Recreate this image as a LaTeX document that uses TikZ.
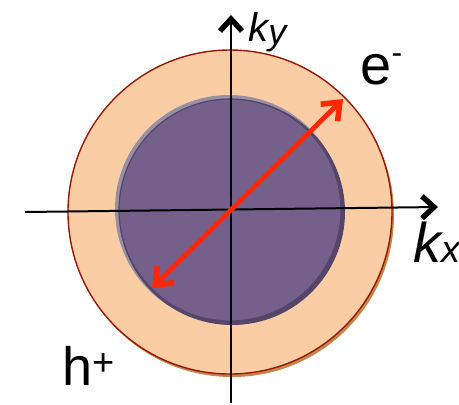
\documentclass[tikz,border=0pt]{standalone}
\usepackage{fontspec}
\setmainfont{Liberation Sans}
\usepackage{xcolor}
\usepackage{tikz}
\usetikzlibrary{arrows.meta}
\definecolor{fermisea}{RGB}{117,96,140}
\definecolor{fermiedge}{RGB}{85,70,105}
\definecolor{shell}{RGB}{251,205,165}
\definecolor{shelledge}{RGB}{150,25,5}
\definecolor{shellshadow}{RGB}{195,135,75}
\definecolor{pairarrow}{RGB}{255,40,5}

\begin{document}
\begin{tikzpicture}[
    x=0.5pt, y=-0.5pt,
    every node/.style={inner sep=0pt, anchor=base west},
    axis/.style={line width=1pt, -{Straight Barb[length=6pt, width=11pt, line width=2.7pt]}},
    pair/.style={draw=pairarrow, line width=2.4pt, line cap=round,
        {Straight Barb[length=7.5pt, width=12pt, line width=2.8pt]}-{Straight Barb[length=7.5pt, width=12pt, line width=2.8pt]}}
]
\useasboundingbox (0,0) rectangle (459,404);

% Schalen
\fill[shellshadow] (232,215) circle[radius=162];
\draw[shelledge, fill=shell, line width=0.7pt] (230,212) circle[radius=162];
\fill[fermiedge!60!white] (229,209) circle[radius=114];
\fill[fermiedge] (232,212) circle[radius=113];
\draw[fermiedge, fill=fermisea, line width=0.6pt] (230,210) circle[radius=111];

% Achsen
\coordinate (kxa) at (25,212);
\coordinate (kxb) at (438,207);
\coordinate (kya) at (231,403);
\coordinate (kyb) at (231,15);
\draw[axis] (kxa) -- (kxb);
\draw[axis] (kya) -- (kyb);

% Pfeil
\coordinate (hole) at (152,288);
\coordinate (elec) at (343,99);
\draw[pair] (hole) -- (elec);

% Beschriftungen
\node (ky) at (248,41) {\fontsize{20}{22}\selectfont\itshape k\raisebox{-1.5pt}{\fontsize{18}{18}\selectfont y}};
\node (kx) at (413,262) {\fontsize{28}{30}\selectfont\itshape k{\fontsize{19}{19}\selectfont x}};
\node (el) at (360,84) {\fontsize{28}{30}\selectfont e\raisebox{10.5pt}{\fontsize{16}{16}\selectfont -}};
\node (ho) at (62,385) {\fontsize{27}{30}\selectfont h\raisebox{5pt}{\fontsize{19}{19}\selectfont +}};

\end{tikzpicture}
\end{document}
